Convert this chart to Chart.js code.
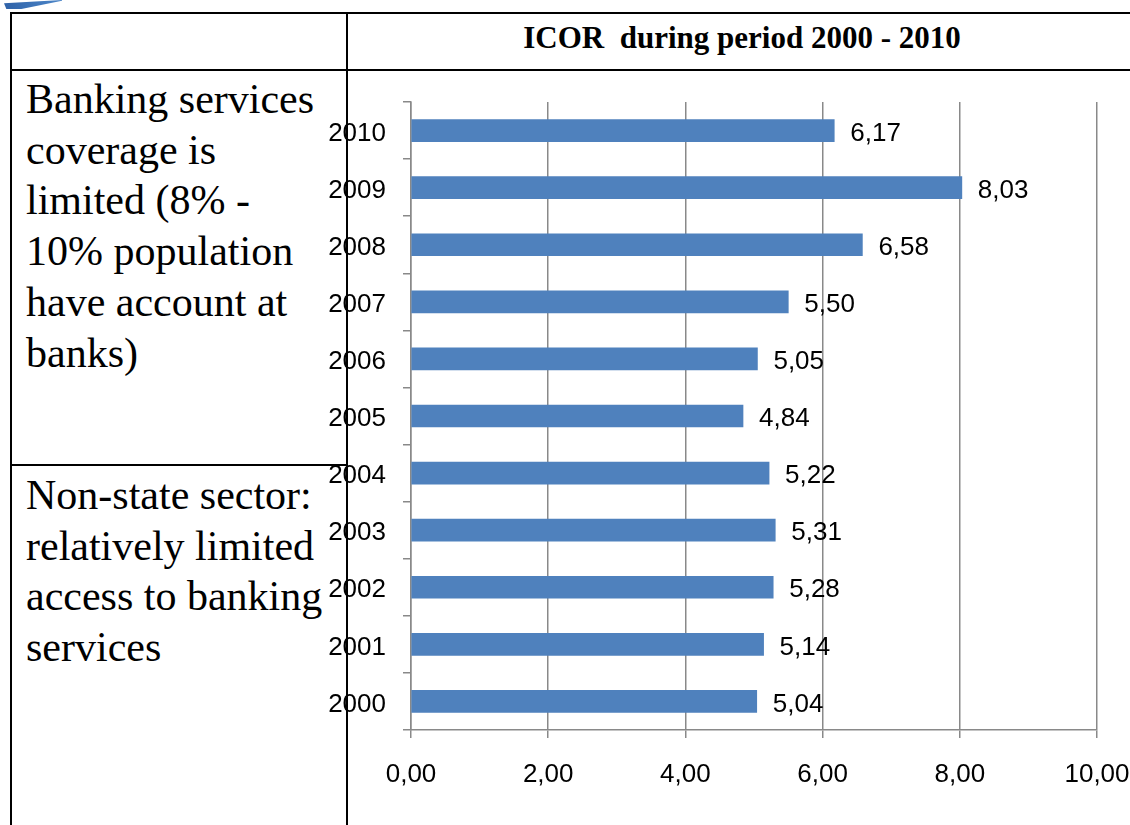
<!DOCTYPE html>
<html lang="en">
  <head>
    <meta charset="UTF-8" />
    <title>ICOR 2000 - 2010</title>
    <script src="https://cdn.jsdelivr.net/npm/chart.js"></script>
    <style>
      html,
      body {
        margin: 0;
        padding: 0;
        background: #fff;
      }
      .page {
        position: relative;
        width: 1130px;
        height: 825px;
        overflow: hidden;
      }
      .rule {
        position: absolute;
        background: #000;
      }
      .swoosh {
        position: absolute;
        left: 4px;
        top: 0;
        width: 58px;
        height: 9px;
        background: linear-gradient(90deg, #2f62a8, #4c86c8);
        clip-path: polygon(0 35%, 100% 0, 100% 8%, 30% 100%, 4% 100%);
      }
      .cell-text {
        position: absolute;
        left: 26px;
        font-family: "Liberation Serif", "Times New Roman", serif;
        font-size: 42px;
        line-height: 50.7px;
        color: #000;
        white-space: pre;
      }
      .title {
        position: absolute;
        left: 349px;
        width: 786px;
        top: 20px;
        text-align: center;
        font-family: "Liberation Serif", "Times New Roman", serif;
        font-weight: bold;
        font-size: 31px;
        line-height: 36px;
        white-space: pre;
      }
      #icorChart {
        position: absolute;
        left: 0;
        top: 0;
      }
    </style>
  </head>
  <body>
    <div class="page">
      <div class="swoosh"></div>
      <!-- table rules -->
      <div class="rule" style="left: 10px; top: 12px; width: 1120px; height: 2px"></div>
      <div class="rule" style="left: 10px; top: 69px; width: 1120px; height: 2px"></div>
      <div class="rule" style="left: 10px; top: 464px; width: 338px; height: 2px"></div>
      <div class="rule" style="left: 10px; top: 12px; width: 2px; height: 813px"></div>
      <div class="rule" style="left: 346px; top: 12px; width: 2px; height: 813px"></div>

      <div class="title">ICOR  during period 2000 - 2010</div>
      <div class="cell-text" style="top: 74px">Banking services
coverage is
limited (8% -
10% population
have account at
banks)</div>
      <div class="cell-text" style="top: 470px">Non-state sector:
relatively limited
access to banking
services</div>

      <canvas id="icorChart" width="1130" height="825"></canvas>
    </div>

    <script>
      const years = ["2010", "2009", "2008", "2007", "2006", "2005", "2004", "2003", "2002", "2001", "2000"];
      const icor = [6.17, 8.03, 6.58, 5.5, 5.05, 4.84, 5.22, 5.31, 5.28, 5.14, 5.04];
      const xTicks = [0, 2, 4, 6, 8, 10];

      const axisGray = "#898989";
      const labelFont = { family: "'Liberation Sans', Arial, sans-serif", size: 26 };
      const fmt = (v) => v.toFixed(2).replace(".", ",");

      // value labels to the right of each bar
      const barLabels = {
        id: "barLabels",
        afterDatasetsDraw(chart) {
          const ctx = chart.ctx;
          const meta = chart.getDatasetMeta(0);
          ctx.save();
          ctx.font = "26px 'Liberation Sans', Arial, sans-serif";
          ctx.fillStyle = "#000";
          ctx.textAlign = "left";
          ctx.textBaseline = "middle";
          meta.data.forEach((bar, i) => {
            ctx.fillText(fmt(icor[i]), bar.x + 16, bar.y + 3);
          });
          ctx.restore();
        },
      };

      new Chart(document.getElementById("icorChart"), {
        type: "bar",
        data: {
          labels: years,
          datasets: [
            {
              data: icor,
              backgroundColor: "#4F81BD",
              borderWidth: 0,
              barThickness: 22,
            },
          ],
        },
        options: {
          indexAxis: "y",
          responsive: false,
          animation: false,
          layout: { padding: { left: 0, right: 33, top: 102, bottom: 0 } },
          plugins: {
            legend: { display: false },
            tooltip: { enabled: false },
          },
          scales: {
            x: {
              min: 0,
              max: 10,
              afterBuildTicks: (scale) => {
                scale.ticks = xTicks.map((v) => ({ value: v }));
              },
              afterFit: (scale) => {
                scale.height = 95;
                // last label may run off the edge, like the original sheet
                scale.paddingLeft = 0;
                scale.paddingRight = 0;
              },
              ticks: {
                color: "#000",
                font: labelFont,
                padding: 21,
                callback: (v) => fmt(v),
              },
              grid: {
                color: axisGray,
                lineWidth: 1.5,
                tickLength: 8,
              },
              border: { color: axisGray, width: 1.5 },
            },
            y: {
              afterFit: (scale) => {
                scale.width = 411;
              },
              ticks: {
                color: "#000",
                font: labelFont,
                padding: 17,
                labelOffset: 3,
              },
              grid: {
                drawOnChartArea: false,
                offset: true,
                color: axisGray,
                lineWidth: 1.5,
                tickLength: 8,
              },
              border: { color: axisGray, width: 1.5 },
            },
          },
        },
        plugins: [barLabels],
      });
    </script>
  </body>
</html>
